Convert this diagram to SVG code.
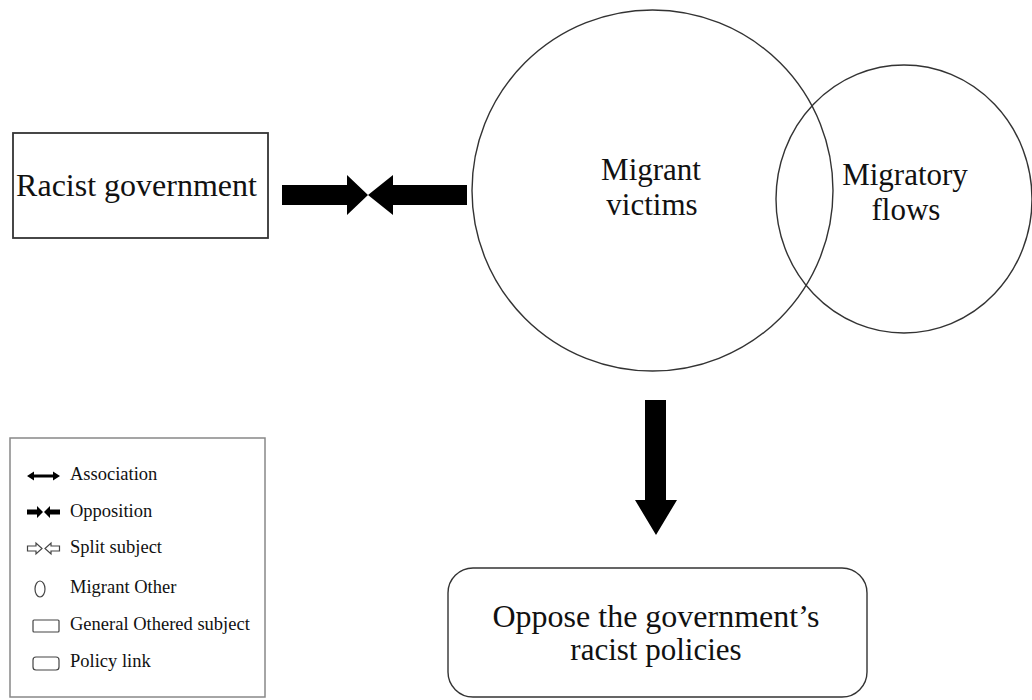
<svg xmlns="http://www.w3.org/2000/svg" width="1032" height="700" viewBox="0 0 1032 700">
<style>
.t{font-family:'Liberation Serif','Times New Roman',Times,'DejaVu Serif',serif;fill:#111;}
.big{font-size:31px;}
.lg{font-size:18.5px;}
.node{fill:none;stroke:#333;stroke-width:1.4;}
.blk{fill:#000;stroke:none;}
.ico{fill:none;stroke:#444;stroke-width:1.2;}
</style>
<rect width="1032" height="700" fill="#fff"/>
<g id="racist-government">
<rect class="node" x="13" y="133" width="255" height="105" style="stroke-width:1.8"/>
<text class="t big" x="136.5" y="196" text-anchor="middle" style="font-size:32px">Racist government</text>
</g>
<g id="migrant-victims">
<circle class="node" cx="652.5" cy="190.5" r="180.5"/>
<text class="t big" x="651" y="180" text-anchor="middle">Migrant</text>
<text class="t big" x="652" y="215" text-anchor="middle">victims</text>
</g>
<g id="migratory-flows">
<ellipse class="node" cx="904" cy="199" rx="128" ry="134"/>
<text class="t big" x="905" y="185" text-anchor="middle">Migratory</text>
<text class="t big" x="906" y="220" text-anchor="middle">flows</text>
</g>
<g id="oppose-policies">
<rect class="node" x="448" y="568" width="419" height="129" rx="25" ry="25"/>
<text class="t big" x="656" y="627" text-anchor="middle" style="font-size:32px">Oppose the government’s</text>
<text class="t big" x="656" y="660" text-anchor="middle">racist policies</text>
</g>
<g id="connectors">
<polygon class="blk" points="282,185 347,185 347,175 368,195 347,215 347,205 282,205"/>
<polygon class="blk" points="467,185 393,185 393,175 368,195 393,215 393,205 467,205"/>
<polygon class="blk" points="645,400 666,400 666,500 677,500 656,535 635,500 645,500"/>
</g>
<g id="legend">
<rect x="10" y="438" width="255" height="259" fill="none" stroke="#888" stroke-width="1.5"/>
<polygon class="blk" points="27,476 34,471.5 34,474.5 53,474.5 53,471.5 60,476 53,480.5 53,477.5 34,477.5 34,480.5"/>
<text class="t lg" x="70" y="480">Association</text>
<polygon class="blk" points="27,509.5 37,509.5 37,506 43,512 37,518 37,514.5 27,514.5"/>
<polygon class="blk" points="60,509.5 50,509.5 50,506 44,512 50,518 50,514.5 60,514.5"/>
<text class="t lg" x="70" y="517">Opposition</text>
<polygon class="ico" points="27.5,546 36,546 36,543 42,548.5 36,554 36,551 27.5,551"/>
<polygon class="ico" points="59.5,546 51,546 51,543 45,548.5 51,554 51,551 59.5,551"/>
<text class="t lg" x="70" y="553">Split subject</text>
<ellipse class="ico" cx="40" cy="589" rx="5" ry="8"/>
<text class="t lg" x="70" y="593">Migrant Other</text>
<rect class="ico" x="33" y="620" width="26" height="12" rx="1"/>
<text class="t lg" x="70" y="630">General Othered subject</text>
<rect class="ico" x="33" y="657" width="26" height="13" rx="3"/>
<text class="t lg" x="70" y="667">Policy link</text>
</g>
</svg>
